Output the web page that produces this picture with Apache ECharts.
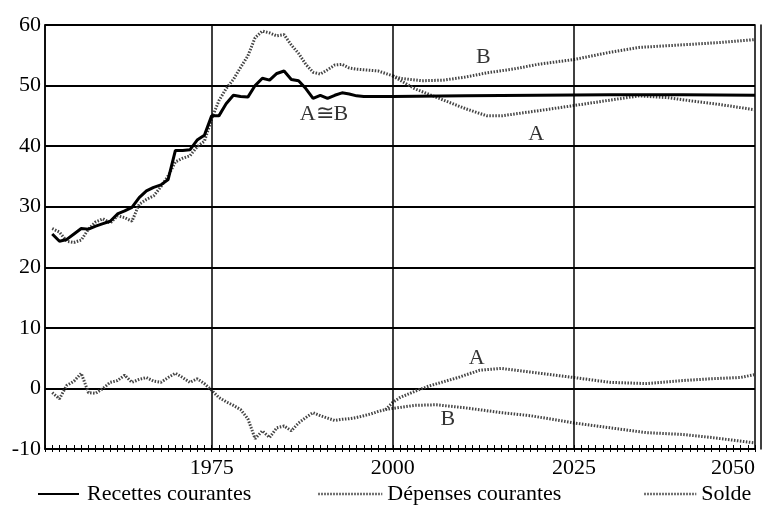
<!DOCTYPE html>
<html>
<head>
<meta charset="utf-8">
<script src="https://cdn.jsdelivr.net/npm/echarts@6/dist/echarts.min.js"></script>
<style>
  html, body { margin: 0; padding: 0; background: #fff; }
  #main { width: 775px; height: 509px; }
</style>
</head>
<body>
<div id="main"></div>
<script>
// Recettes courantes (A et B confondus)
var recYears = [1953,1954,1955,1956,1957,1958,1959,1960,1961,1962,1963,1964,1965,1966,1967,1968,1969,1970,1971,1972,1973,1974,1975,1976,1977,1978,1979,1980,1981,1982,1983,1984,1985,1986,1987,1988,1989,1990,1991,1992,1993,1994,1995,1996,2000,2010,2020,2030,2040,2050];
var recValues = [25.5,24.3,24.6,25.5,26.4,26.3,26.8,27.2,27.6,28.8,29.3,29.9,31.5,32.6,33.2,33.6,34.5,39.3,39.3,39.4,41.0,41.8,45.0,45.0,47.0,48.4,48.2,48.1,50.0,51.2,50.9,52.0,52.4,51.0,50.8,49.5,47.9,48.4,47.9,48.4,48.8,48.6,48.3,48.2,48.2,48.3,48.4,48.5,48.5,48.4];

// Dépenses courantes : partie commune puis scénarios A et B
var depYears = [1953,1954,1955,1956,1957,1958,1959,1960,1961,1962,1963,1964,1965,1966,1967,1968,1969,1970,1971,1972,1973,1974,1975,1976,1977,1978,1979,1980,1981,1982,1983,1984,1985,1986,1987,1988,1989,1990,1991,1992,1993,1994,1995,1996,1997,1998,1999,2000];
var depValues = [26.4,25.8,24.3,24.1,24.5,26.3,27.5,28.0,27.3,28.5,28.2,27.6,30.4,31.2,31.8,33.3,35.1,37.4,38.0,38.4,39.9,40.8,44.5,47.5,49.5,51.0,53.0,54.9,57.9,59.0,58.7,58.2,58.4,56.7,55.3,53.5,52.2,51.9,52.6,53.4,53.5,52.9,52.7,52.6,52.5,52.4,52.0,51.6];
var depAYears = [2000,2003,2007,2010,2013,2015,2018,2021,2025,2030,2034,2038,2041,2045,2050];
var depAValues = [51.6,49.5,47.6,46.2,45.0,45.0,45.5,46.0,46.7,47.6,48.3,48.0,47.5,46.9,46.0];
var depBYears = [2000,2001,2004,2007,2010,2013,2017,2020,2025,2030,2034,2041,2045,2050];
var depBValues = [51.6,51.2,50.8,50.9,51.4,52.1,52.8,53.5,54.3,55.5,56.3,56.8,57.1,57.6];

// Solde
var solYears = [1953,1954,1955,1956,1957,1958,1959,1960,1961,1962,1963,1964,1965,1966,1967,1968,1969,1970,1971,1972,1973,1974,1975,1976,1977,1978,1979,1980,1981,1982,1983,1984,1985,1986,1987,1988,1989,1990,1991,1992,1993,1994,1995,1996,1997,1998,1999];
var solValues = [-0.7,-1.7,0.5,1.2,2.5,-0.7,-0.8,0.0,1.0,1.3,2.2,1.0,1.5,1.8,1.2,1.0,1.8,2.5,1.8,1.0,1.6,0.8,-0.3,-1.5,-2.2,-2.8,-3.5,-5.0,-8.3,-7.0,-8.1,-6.5,-6.2,-7.0,-5.7,-4.8,-4.0,-4.5,-4.9,-5.3,-5.1,-5.0,-4.8,-4.5,-4.2,-3.8,-3.5];
var solAYears = [1999,2000,2001,2003,2005,2009,2012,2015,2019,2025,2030,2035,2040,2044,2048,2050];
var solAValues = [-3.5,-2.3,-1.5,-0.5,0.4,1.8,3.0,3.3,2.7,1.8,1.0,0.8,1.3,1.6,1.8,2.3];
var solBYears = [1999,2000,2003,2006,2010,2015,2019,2025,2030,2035,2040,2044,2050];
var solBValues = [-3.5,-3.3,-2.8,-2.7,-3.2,-4.0,-4.5,-5.7,-6.5,-7.3,-7.6,-8.1,-9.0];

// annotations
var noteText = ['B', 'A', 'A\u2245B', 'A', 'B'];
var noteX = [2012.5, 2019.8, 1990.5, 2011.6, 2007.6];
var noteY = [54.7, 42.0, 45.2, 5.0, -5.1];

var gridYears = [1975, 2000, 2025];
var yTicks = [-10, 0, 10, 20, 30, 40, 50, 60];

function pairs(xs, ys) {
	return xs.map(function (x, i) { return [x, ys[i]]; });
}

var FONT = 'Liberation Serif';
var GREY = '#444';
var dotted = { color: GREY, width: 3, type: [1.5, 1.5] };
// pas de symbole dans la légende
var noSymbol = { color: 'rgba(0,0,0,0)', borderColor: 'rgba(0,0,0,0)', borderWidth: 0 };
var legendText = { fontFamily: FONT, fontSize: 22, color: '#000' };

var myChart = echarts.init(document.getElementById('main'));

var option = {
	backgroundColor: '#fff',
	animation: false,
	grid: { left: 45, right: 20, top: 25, bottom: 60, show: true, borderColor: '#000', borderWidth: 1.5 },
	legend: [
		{ data: ['Recettes courantes'], left: 32, top: 478, itemWidth: 41, itemHeight: 14, itemStyle: noSymbol,
		  lineStyle: { width: 2 }, textStyle: Object.assign({ padding: [0, 0, 0, 3] }, legendText) },
		{ data: ['Dépenses courantes'], left: 312, top: 478, itemWidth: 64, itemHeight: 14, itemStyle: noSymbol,
		  lineStyle: { width: 2.5 }, textStyle: legendText },
		{ data: ['Solde'], left: 638, top: 478, itemWidth: 52, itemHeight: 14, itemStyle: noSymbol,
		  lineStyle: { width: 2.5 }, textStyle: legendText }
	],
	xAxis: [
		{
			type: 'value', min: 1952, max: 2050, interval: 1,
			axisLine: { onZero: false, lineStyle: { color: '#000', width: 1.5 } },
			axisTick: { inside: true, length: 4, lineStyle: { color: '#000', width: 1 } },
			axisLabel: {
				fontFamily: FONT, fontSize: 22, color: '#000', margin: 8, alignMaxLabel: 'right',
				formatter: function (v) { return (v % 25 === 0 && v >= 1975) ? String(v) : ''; }
			},
			splitLine: { show: false }
		},
		{
			type: 'value', min: 1952, max: 2050, interval: 1, position: 'bottom',
			axisLine: { show: false, onZero: false },
			axisTick: { inside: false, length: 3, lineStyle: { color: '#000', width: 1 } },
			axisLabel: { show: false },
			splitLine: { show: false }
		}
	],
	yAxis: [
		{
			type: 'value', min: yTicks[0], max: yTicks[yTicks.length - 1], interval: 10,
			axisLine: { show: true, lineStyle: { color: '#000', width: 1.5 } },
			axisTick: { show: false },
			axisLabel: { fontFamily: FONT, fontSize: 22, color: '#000', margin: 4 },
			splitLine: { lineStyle: { color: '#000', width: 1.8 } }
		},
		{
			type: 'value', min: yTicks[0], max: yTicks[yTicks.length - 1], interval: 10, position: 'right', offset: 6,
			axisLine: { show: true, lineStyle: { color: '#000', width: 1.5 } },
			axisTick: { show: false }, axisLabel: { show: false }, splitLine: { show: false }
		}
	],
	series: [
		{
			name: 'Recettes courantes', type: 'line', symbol: 'none', z: 5,
			data: pairs(recYears, recValues),
			lineStyle: { color: '#000', width: 3 }, itemStyle: { color: '#000' },
			markLine: {
				silent: true, symbol: 'none', label: { show: false },
				lineStyle: { color: '#000', width: 1.5, type: 'solid' },
				data: gridYears.map(function (y) { return { xAxis: y }; })
			}
		},
		{ name: 'Dépenses courantes', type: 'line', symbol: 'none', data: pairs(depYears, depValues), lineStyle: dotted, itemStyle: { color: GREY } },
		{ name: 'Dépenses courantes', type: 'line', symbol: 'none', data: pairs(depAYears, depAValues), lineStyle: dotted, itemStyle: { color: GREY } },
		{ name: 'Dépenses courantes', type: 'line', symbol: 'none', data: pairs(depBYears, depBValues), lineStyle: dotted, itemStyle: { color: GREY } },
		{ name: 'Solde', type: 'line', symbol: 'none', data: pairs(solYears, solValues), lineStyle: dotted, itemStyle: { color: GREY } },
		{ name: 'Solde', type: 'line', symbol: 'none', data: pairs(solAYears, solAValues), lineStyle: dotted, itemStyle: { color: GREY } },
		{ name: 'Solde', type: 'line', symbol: 'none', data: pairs(solBYears, solBValues), lineStyle: dotted, itemStyle: { color: GREY } },
		{
			name: 'notes', type: 'scatter', symbolSize: 1, silent: true, z: 10,
			itemStyle: { color: 'rgba(0,0,0,0)' },
			data: noteX.map(function (x, i) { return [x, noteY[i], noteText[i]]; }),
			label: {
				show: true, position: 'inside', fontFamily: FONT, fontSize: 22, color: '#000',
				formatter: function (p) { return p.value[2]; }
			}
		}
	]
};

myChart.setOption(option);
</script>
</body>
</html>
